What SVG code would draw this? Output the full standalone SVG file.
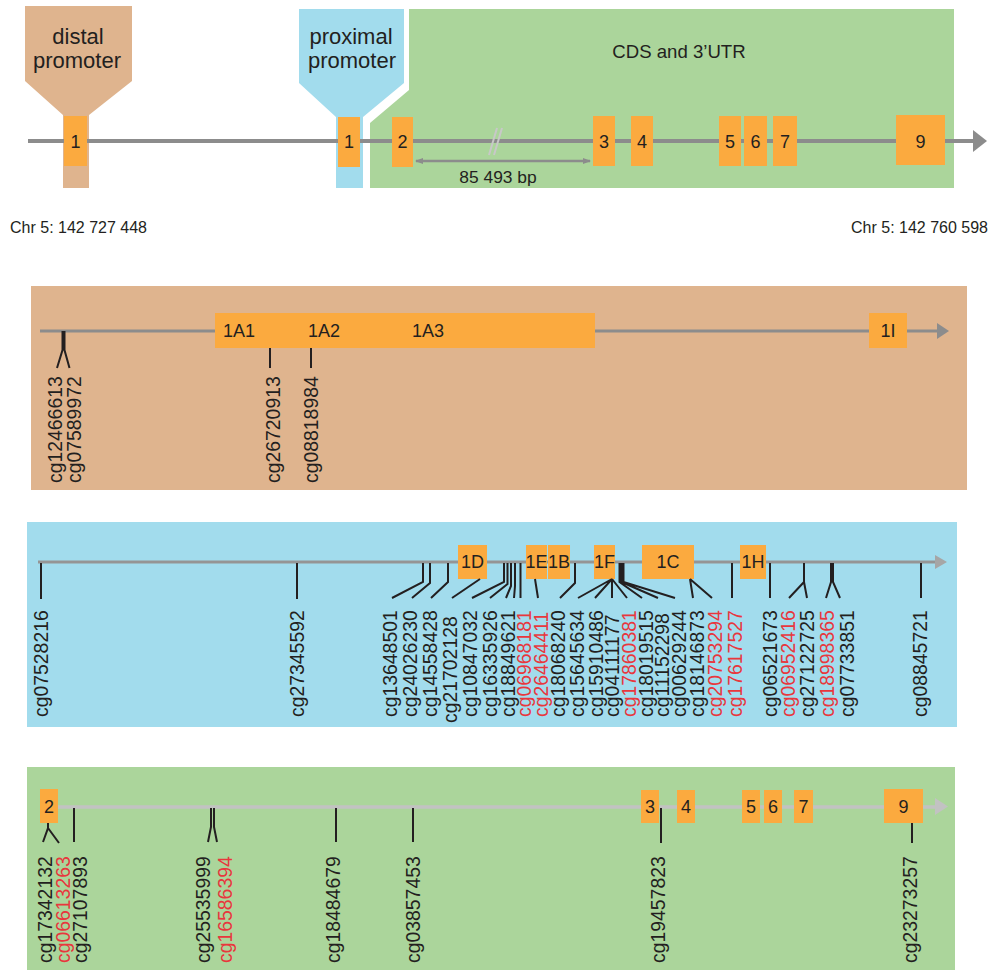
<svg xmlns="http://www.w3.org/2000/svg" width="990" height="970" viewBox="0 0 990 970">
<defs>
<style>
text{font-family:"Liberation Sans",Arial,sans-serif;fill:#231F20}
.lbl{font-size:19.4px}
.red{fill:#E8373D}
.ex{fill:#FBAA3F}
.et{font-size:18px;text-anchor:middle}
.big{font-size:22px;text-anchor:middle}
.pr{stroke:#231F20;stroke-width:2;fill:none}
.chr{font-size:16px}
</style>
<marker id="ah" viewBox="0 0 8 8" refX="7" refY="4" markerWidth="8" markerHeight="8" markerUnits="userSpaceOnUse" orient="auto-start-reverse">
<path d="M0,1 L8,4 L0,7 Z" fill="#8C8C8C"/>
</marker>
</defs>
<rect width="990" height="970" fill="#fff"/>

<!-- Overview -->
<g id="overview">
<polygon points="25,6 132,6 132,81 89,115 89,188 63,188 63,115 25,81" fill="#DFB48E"/>
<polygon points="299,9 404,9 404,83 363,117 363,188 336,188 336,117 299,83" fill="#A2DCED"/>
<polygon points="409,9 954,9 954,188 370,188 370,123 409,90" fill="#ABD59B"/>
<text class="big" x="78" y="44">distal</text>
<text class="big" x="77" y="68">promoter</text>
<text class="big" x="351" y="44">proximal</text>
<text class="big" x="352" y="68">promoter</text>
<text x="679" y="58" font-size="18.6" text-anchor="middle">CDS and 3’UTR</text>
<line x1="28" y1="141" x2="975" y2="141" stroke="#8C8C8C" stroke-width="4"/>
<polygon points="973,130 987,141 973,152" fill="#8C8C8C"/>
<line x1="489" y1="155" x2="497" y2="128" stroke="#C8C8C8" stroke-width="2"/>
<line x1="494" y1="155" x2="502" y2="128" stroke="#C8C8C8" stroke-width="2"/>
<line x1="416" y1="161" x2="590" y2="161" stroke="#8C8C8C" stroke-width="2.5" marker-start="url(#ah)" marker-end="url(#ah)"/>
<text x="498" y="183" font-size="17.4" text-anchor="middle">85 493 bp</text>
<text class="chr" x="10" y="233">Chr 5: 142 727 448</text>
<text class="chr" x="988" y="233" text-anchor="end">Chr 5: 142 760 598</text>
</g>
<g id="top-exons">
<rect class="ex" x="64" y="116" width="23" height="50"/><text class="et" x="75.5" y="148">1</text>
<rect class="ex" x="338" y="117" width="22" height="50"/><text class="et" x="349" y="148">1</text>
<rect class="ex" x="392" y="117" width="21" height="50"/><text class="et" x="402.5" y="148">2</text>
<rect class="ex" x="593" y="116" width="22" height="50"/><text class="et" x="604" y="148">3</text>
<rect class="ex" x="631" y="116" width="22" height="50"/><text class="et" x="642" y="148">4</text>
<rect class="ex" x="719" y="116" width="22" height="50"/><text class="et" x="730" y="148">5</text>
<rect class="ex" x="744" y="116" width="23" height="50"/><text class="et" x="755.5" y="148">6</text>
<rect class="ex" x="773" y="116" width="24" height="50"/><text class="et" x="785" y="148">7</text>
<rect class="ex" x="896" y="115" width="49" height="50"/><text class="et" x="920.5" y="148">9</text>
</g>

<!-- Panel distal -->
<g id="panel-distal">
<rect x="31" y="286" width="936" height="204" fill="#DFB48E"/>
<line x1="40" y1="331" x2="938" y2="331" stroke="#8C8C8C" stroke-width="3"/>
<polygon points="937,323 949,331 937,339" fill="#8C8C8C"/>
<rect class="ex" x="215" y="313" width="380" height="35"/>
<text class="et" x="239" y="337">1A1</text>
<text class="et" x="324" y="337">1A2</text>
<text class="et" x="428" y="337">1A3</text>
<rect class="ex" x="869" y="313" width="38" height="35"/>
<text class="et" x="888" y="337">1I</text>
<text class="lbl" transform="translate(62,483) rotate(-90)">cg12466613</text>
<text class="lbl" transform="translate(81,483) rotate(-90)">cg07589972</text>
<text class="lbl" transform="translate(280,483) rotate(-90)">cg26720913</text>
<text class="lbl" transform="translate(318,483) rotate(-90)">cg08818984</text>
</g>

<!-- Panel proximal -->
<g id="panel-proximal">
<rect x="27" y="522" width="930" height="205" fill="#A2DCED"/>
<line x1="38" y1="562" x2="936" y2="562" stroke="#959595" stroke-width="3"/>
<polygon points="935,555 947,562 935,569" fill="#A6A6A6"/>
<rect class="ex" x="458" y="545" width="29" height="34"/><text class="et" x="472.5" y="568">1D</text>
<rect class="ex" x="526" y="545" width="21" height="34"/><text class="et" x="536.5" y="568">1E</text>
<rect class="ex" x="548" y="545" width="22" height="34"/><text class="et" x="559" y="568">1B</text>
<rect class="ex" x="594" y="545" width="21" height="34"/><text class="et" x="604.5" y="568">1F</text>
<rect class="ex" x="642" y="545" width="52" height="34"/><text class="et" x="668" y="568">1C</text>
<rect class="ex" x="740" y="545" width="26" height="34"/><text class="et" x="753" y="568">1H</text>
<text class="lbl" transform="translate(48,717) rotate(-90)">cg07528216</text>
<text class="lbl" transform="translate(304,717) rotate(-90)">cg27345592</text>
<text class="lbl" transform="translate(397,717) rotate(-90)">cg13648501</text>
<text class="lbl" transform="translate(417,717) rotate(-90)">cg24026230</text>
<text class="lbl" transform="translate(437,717) rotate(-90)">cg14558428</text>
<text class="lbl" transform="translate(457,723) rotate(-90)">cg21702128</text>
<text class="lbl" transform="translate(477,717) rotate(-90)">cg10847032</text>
<text class="lbl" transform="translate(497,717) rotate(-90)">cg16335926</text>
<text class="lbl" transform="translate(515,717) rotate(-90)">cg18849621</text>
<text class="lbl red" transform="translate(531,717) rotate(-90)">cg06968181</text>
<text class="lbl red" transform="translate(548,717) rotate(-90)">cg26464411</text>
<text class="lbl" transform="translate(565,717) rotate(-90)">cg18068240</text>
<text class="lbl" transform="translate(584,717) rotate(-90)">cg15645634</text>
<text class="lbl" transform="translate(603,717) rotate(-90)">cg15910486</text>
<text class="lbl" transform="translate(619,717) rotate(-90)">cg04111177</text>
<text class="lbl red" transform="translate(636,717) rotate(-90)">cg17860381</text>
<text class="lbl" transform="translate(653,717) rotate(-90)">cg18019515</text>
<text class="lbl" transform="translate(669,717) rotate(-90)">cg11152298</text>
<text class="lbl" transform="translate(686,717) rotate(-90)">cg00629244</text>
<text class="lbl" transform="translate(704,717) rotate(-90)">cg18146873</text>
<text class="lbl red" transform="translate(722,717) rotate(-90)">cg20753294</text>
<text class="lbl red" transform="translate(742,717) rotate(-90)">cg17617527</text>
<text class="lbl" transform="translate(777,717) rotate(-90)">cg06521673</text>
<text class="lbl red" transform="translate(795,717) rotate(-90)">cg06952416</text>
<text class="lbl" transform="translate(814,717) rotate(-90)">cg27122725</text>
<text class="lbl red" transform="translate(834,717) rotate(-90)">cg18998365</text>
<text class="lbl" transform="translate(854,717) rotate(-90)">cg07733851</text>
<text class="lbl" transform="translate(927,717) rotate(-90)">cg08845721</text>
</g>

<!-- Panel CDS -->
<g id="panel-cds">
<rect x="27" y="767" width="928" height="203" fill="#ABD59B"/>
<line x1="56" y1="807" x2="937" y2="807" stroke="#C2C2C2" stroke-width="3.5"/>
<polygon points="935,798 948,806.5 935,815" fill="#C2C2C2"/>
<rect class="ex" x="40" y="789" width="18" height="34"/><text class="et" x="49" y="813">2</text>
<rect class="ex" x="641" y="790" width="18" height="33"/><text class="et" x="650" y="813">3</text>
<rect class="ex" x="677" y="790" width="18" height="33"/><text class="et" x="686" y="813">4</text>
<rect class="ex" x="742" y="790" width="18" height="33"/><text class="et" x="751" y="813">5</text>
<rect class="ex" x="764" y="790" width="18" height="33"/><text class="et" x="773" y="813">6</text>
<rect class="ex" x="794" y="790" width="19" height="33"/><text class="et" x="803.5" y="813">7</text>
<rect class="ex" x="884" y="789" width="39" height="34"/><text class="et" x="903.5" y="813">9</text>
<text class="lbl" transform="translate(52,963) rotate(-90)">cg17342132</text>
<text class="lbl red" transform="translate(70,963) rotate(-90)">cg06613263</text>
<text class="lbl" transform="translate(87,963) rotate(-90)">cg27107893</text>
<text class="lbl" transform="translate(210,963) rotate(-90)">cg25535999</text>
<text class="lbl red" transform="translate(232,963) rotate(-90)">cg16586394</text>
<text class="lbl" transform="translate(340,963) rotate(-90)">cg18484679</text>
<text class="lbl" transform="translate(420,963) rotate(-90)">cg03857453</text>
<text class="lbl" transform="translate(665,963) rotate(-90)">cg19457823</text>
<text class="lbl" transform="translate(917,963) rotate(-90)">cg23273257</text>
</g>

<g id="connectors" class="pr">
<!-- distal -->
<path d="M62.5,331 V350 L57,368 M64.5,331 V350 L69.5,368"/>
<path d="M270,348 V368 M311,348 V368"/>
<!-- proximal -->
<path d="M41,563 V599 M297,563 V599"/>
<path d="M423,563 V582 L392,598 M430,563 V583 L412,598 M448,563 V582 L431,598"/>
<path d="M480,579 L452,598"/>
<path d="M504,563 V582 L472,598 M507.5,563 V584 L490,598 M511,563 V586 L506,598 M515,563 V586 L514,598 M520.5,563 V598"/>
<path d="M535,579 L538,598"/>
<path d="M575,563 V583 L560,598"/>
<path d="M612,579 L578,598 M612,579 L595,598 M612,579 L612,598 M612,579 L627,598"/>
<path d="M619.5,563 V582 L642,598 M621.5,563 V582 L658,598 M623.5,563 V582 L675,598"/>
<path d="M690,579 L693,598 M690,579 L712,598"/>
<path d="M732,563 V598 M770,563 V598 M921,563 V598"/>
<path d="M804,563 V582 L789,598 M804,582 L807,598"/>
<path d="M831,563 V582 L826,598 M833,563 V582 L840,598"/>
<!-- cds -->
<path d="M48,823 V828 L43,842 M48,828 L59,843"/>
<path d="M74,808 V842 M336,808 V842 M413,808 V842 M661,808 V843 M912,823 V843"/>
<path d="M211,808 V827 L208,842 M214,808 V827 L217,842"/>
</g>
</svg>
